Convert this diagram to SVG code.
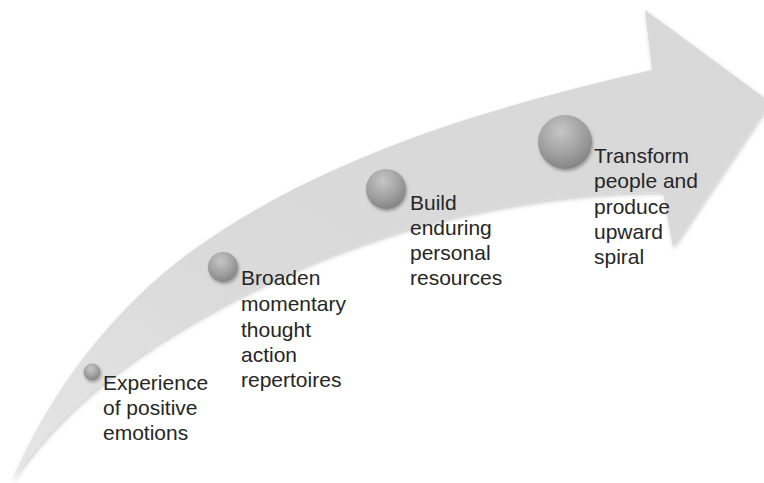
<svg xmlns="http://www.w3.org/2000/svg" width="764" height="483" viewBox="0 0 764 483">
  <defs>
    <linearGradient id="arrowFill" x1="0" y1="1" x2="1" y2="0">
      <stop offset="0" stop-color="#e6e6e6"/>
      <stop offset="0.35" stop-color="#dadada"/>
      <stop offset="1" stop-color="#d8d8d8"/>
    </linearGradient>
    <radialGradient id="ball" cx="0.42" cy="0.3" r="0.75">
      <stop offset="0" stop-color="#c6c6c6"/>
      <stop offset="0.55" stop-color="#a2a2a2"/>
      <stop offset="1" stop-color="#808080"/>
    </radialGradient>
    <filter id="shadow" x="-10%" y="-10%" width="120%" height="130%">
      <feDropShadow dx="1" dy="2" stdDeviation="2" flood-color="#000" flood-opacity="0.22"/>
    </filter>
    <filter id="ballShadow" x="-40%" y="-40%" width="180%" height="180%">
      <feDropShadow dx="1" dy="2" stdDeviation="1.6" flood-color="#000" flood-opacity="0.3"/>
    </filter>
  </defs>
  <style>
    .lbl { font-family: "Liberation Sans", Arial, Helvetica, sans-serif; font-size: 21px; fill: #262626; }
    .ball { fill: url(#ball); filter: url(#ballShadow); }
  </style>
  <rect width="764" height="483" fill="#ffffff"/>

  <g id="connectors">
    <path id="arrow" fill="url(#arrowFill)" filter="url(#shadow)"
      d="M12,481 C49,392 114,307 193,250 C326,155 493,106 652,70 L645,10 L770,102 L673,247 L663,192 C533,192 398,222 280,277 C178,324 74,388 12,481 Z"/>
  </g>

  <g id="node1">
    <circle class="ball" cx="92" cy="372" r="8.5"/>
    <text class="lbl" x="103" y="390">Experience</text>
    <text class="lbl" x="103" y="415">of positive</text>
    <text class="lbl" x="103" y="440">emotions</text>
  </g>

  <g id="node2">
    <circle class="ball" cx="223" cy="267" r="15"/>
    <text class="lbl" x="241" y="285">Broaden</text>
    <text class="lbl" x="241" y="311">momentary</text>
    <text class="lbl" x="241" y="337">thought</text>
    <text class="lbl" x="241" y="362">action</text>
    <text class="lbl" x="241" y="387">repertoires</text>
  </g>

  <g id="node3">
    <circle class="ball" cx="386" cy="189" r="20"/>
    <text class="lbl" x="410" y="210">Build</text>
    <text class="lbl" x="410" y="235">enduring</text>
    <text class="lbl" x="410" y="260">personal</text>
    <text class="lbl" x="410" y="285">resources</text>
  </g>

  <g id="node4">
    <circle class="ball" cx="565" cy="142" r="27"/>
    <text class="lbl" x="594" y="163">Transform</text>
    <text class="lbl" x="594" y="188">people and</text>
    <text class="lbl" x="594" y="213.5">produce</text>
    <text class="lbl" x="594" y="239">upward</text>
    <text class="lbl" x="594" y="264">spiral</text>
  </g>
</svg>
